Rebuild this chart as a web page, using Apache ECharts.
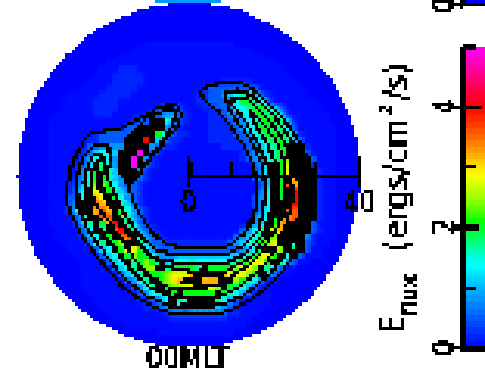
<!DOCTYPE html>
<html><head><meta charset="utf-8">
<style>html,body{margin:0;padding:0;background:#fff;overflow:hidden}#c{width:485px;height:371px;position:absolute;left:0;top:0}#px{position:absolute;left:0;top:0;pointer-events:none}</style>
<script src="https://cdn.jsdelivr.net/npm/echarts@6/dist/echarts.min.js"></script>
</head><body><div id="c"></div><canvas id="px" width="485" height="371"></canvas>
<script>
// flux level for each map character (ergs/cm2/s); x = saturated contour ink
const levelOf={'0':0,'1':0.06,'2':0.2,'3':0.5,'4':0.8,'5':1.1,'6':1.4,'7':1.7,'8':2.0,'9':2.4,'a':2.8,'b':3.2,'c':3.6,'d':4.0,'e':4.6,'f':5,'x':-1};
const colorStops=['#0000ff','#005bff','#00b6ff','#00ffe0','#00ff20','#a0ff00','#ffe000','#ff6600','#ff0000','#ff0080','#ff00ff'];
const colorbarLevels=[0,0.1,0.2,0.3,0.4,0.5,0.6,0.7,0.8,0.9,1,1.1,1.2,1.3,1.4,1.5,1.6,1.7,1.8,1.9,2,2.1,2.2,2.3,2.4,2.5,2.6,2.7,2.8,2.9,3,3.1,3.2,3.3,3.4,3.5,3.6,3.7,3.8,3.9,4,4.1,4.2,4.3,4.4,4.5,4.6,4.7,4.8,4.9];
const radialTicks=[0,10,20,30,40];
const radialLabels=['0','40'];
const colorbarLabels=['0','2','4'];
const cellDeg=1.5, firstCol=-39.75, firstRow=39.75;
// energy flux map, row by row (top first), 1.5 degree cells
const fluxRows=[
"0000000000 0000000000 0000000000 0000000000 0000000000 0000",
"0000000000 0000000000 0000000000 0000000000 0000000000 0000",
"0000000000 0000000000 0000000000 0000000000 0000000000 0000",
"0000000000 0000000000 0000000000 0000000000 0000000000 0000",
"0000000000 0000000000 0000000000 0000000000 0000000000 0000",
"0000000000 0000000000 0000000000 0000000000 0000000000 0000",
"0000000000 0000000000 1111111111 1111000000 0000000000 0000",
"0000000000 0000000011 1111111111 1111111000 0000000000 0000",
"0000000000 0000001111 1111111111 1111111110 0000000000 0000",
"0000000000 0000111111 1111111111 1111111111 1000000000 0000",
"0000000000 0001112221 1111111111 1111111111 1100000000 0000",
"0000000000 0011122222 1111111111 1111111111 1110000000 0000",
"0000000000 0111122222 1111111111 1122222111 1111000000 0000",
"0000000000 1111222221 1111111112 3333333311 1111100000 0000",
"0000000011 1112222211 1111111122 3345677532 1111100000 0000",
"0000000111 1122221111 1111111122 3334688763 1111111000 0000",
"0000000111 1122221111 1133331112 2334667887 5311111100 0000",
"0000001111 1122211111 2334432111 2234466887 7521111110 0000",
"0000011111 1111111123 3xx6532111 2223446688 8752111110 0000",
"0000011111 111111133x xxx4321111 2222346688 7763111111 0000",
"0000011111 11233333xx xx85322111 2222334678 8875211111 0000",
"0000011111 1223333xxx dx53221111 2222233467 8875311111 0000",
"0000011111 1334444xxx x432211111 1122223456 788xx21111 0000",
"0000011111 235665xxxf x321111111 1111123456 788xx31111 0000",
"0000011111 346764xxfx 4211111111 1111123446 789xxx3111 0000",
"0000011112 357764xxfx 3211111111 1111111346 x8axxx2111 0000",
"0000011112 468875xxx4 2111111111 1111111346 x8axxxx211 0000",
"0000011113 4688754xx3 2111111111 1111111345 x8xbxxx211 0000",
"0000011123 5799864332 1111111111 1111111135 x8cbxxx211 0000",
"0000011124 6xaa875432 1111111111 1111111146 x8xdxxx211 0000",
"000001113x 6xbax86432 1111111111 1111111346 x8xdxxx211 0000",
"0000011135 xxcbax7532 1111111111 1111111346 7xxdxxx211 0000",
"0000011136 xxbcbx8643 2111111111 1111111346 7xccxxx211 0000",
"0000011113 6xxccx9743 2111111111 1111111456 8xbcxxx211 0000",
"0000011113 57x8bdx753 2111111111 111111x457 8bcxxx3111 0000",
"0000001111 36x7xcdx74 3211111111 1111134678 bbxxxx3211 0000",
"0000001111 356x8xccx6 4321111111 1111345678 9xxxx42111 0000",
"0000000111 1367x89xx7 5332222222 2223456789 axx6x32110 0000",
"0000000011 11356x8aa8 6433333333 333334568x a9x7x31100 0000",
"0000000001 111356x898 8644455555 55555678aa 8x6x311100 0000",
"0000000000 1111356x78 9865666766 6667789aa8 x743110000 0000",
"0000000000 111113567x 99x788887x 88889aa9x7 5311000000 0000",
"0000000000 1111113567 x889aaabaa xbbaaa98x5 3110000000 0000",
"0000000000 1111111346 7x89abxxxb bbax987531 1000000000 0000",
"0000000000 1111111134 67x899aaaa a9x8764311 0000000000 0000",
"0000000000 0111111113 467x8x8888 8x87643111 0000000000 0000",
"0000000000 0011111112 2346x76xxx x764311111 0000000000 0000",
"0000000000 0001111111 223455x666 6543111110 0000000000 0000",
"0000000000 0000111111 1112333333 3332211100 0000000000 0000",
"0000000000 0000011111 1111222222 2221111000 0000000000 0000",
"0000000000 0000000111 1111111111 1111110000 0000000000 0000",
"0000000000 0000000000 0011111111 1111000000 0000000000 0000",
"0000000000 0000000000 0000000000 0000000000 0000000000 0000",
"0000000000 0000000000 0000000000 0000000000 0000000000 0000"
];
// contour lines in degrees of colatitude from the pole (x, y)
const contourOuter=[[2.6,19.4],[4.5,20.8],[7.1,21.5],[12.2,21.5],[14.6,20.4],[17.4,18],[20.7,14.7],[23.5,11.6],[25.9,8.1],[27.5,4.6],[28.9,0.6],[29.4,-3.6],[29.2,-7.2],[28.2,-10.7],[25.9,-14.9],[24.5,-18.9],[21.6,-22.9],[18.1,-26.5],[14.6,-29.1],[10.4,-31.2],[6.4,-32.4],[1.6,-32.4],[-3.1,-32.4],[-6.6,-31.4],[-11.3,-29.1],[-14.8,-26.7],[-18.4,-22.9],[-21.9,-18.2],[-24.9,-14.2],[-27.3,-9.5],[-28.7,-6],[-28.2,-1.3],[-27.1,3.4],[-25.4,6.9],[-23.1,10],[-16,10.9],[-12.5,12.8],[-8.9,14.7],[-6.6,16.1],[-2.4,16.4],[-1.6,14],[-2.6,11.6],[-4.2,9.3],[-6.1,7.4],[-8.5,4.6],[-10.6,1.5],[-13.6,-1.3],[-14.1,-2.7],[-12.5,-7.2],[-10.1,-11.2],[-7.8,-14.2],[-5.4,-15.9],[-2.4,-16.8],[8.7,-16.8],[11.8,-14.9],[14.6,-11.9],[15.8,-7.2],[16,-2.5],[15.3,2.2],[12.9,6.9],[10.4,10.9],[7.5,14.5],[4.7,17.1],[2.6,19.4]];
const contourSecond=[[8.5,19.2],[11.8,19.9],[14.6,18.9],[18.1,15.9],[21.6,11.9],[24.2,8.1],[25.9,3.9],[27.1,-0.1],[27.5,-4.8],[27.1,-8.8],[25.4,-13.5],[22.8,-18.2],[19.8,-22.5],[16.5,-25.3],[12.2,-28.4],[8,-30.2],[1.6,-30.7],[-4.2,-30.5],[-9.4,-28.4],[-14.1,-24.8],[-17.9,-20.6],[-21.2,-16.1],[-24,-11.9],[-25.9,-7.9],[-26.6,-3.6],[-25.9,1.1],[-24.5,4.6],[-21.9,6.9],[-18.8,6.9],[-18.4,3.4],[-19.1,-0.1],[-17.6,-3.6],[-14.8,-9.5],[-11.3,-14.2],[-7.1,-17.8],[-1.9,-18.5],[8.7,-18.5],[13.4,-16.1],[16.5,-12.6],[17.6,-7.9],[18.1,-3.2],[17.4,2.2],[15.1,7.4],[12.2,11.6],[9.4,15.6],[8.5,19.2]];
const contourThird=[[10.4,18.2],[13.6,18],[17.4,14.7],[20.7,10.5],[23.1,6.7],[24,2.2],[24.5,-4.8],[23.5,-9.5],[21.6,-15.4],[18.8,-19.6],[15.8,-22.9],[11.8,-26],[7.5,-28.4],[1.6,-29.1],[-3.8,-28.6],[-8.9,-26.2],[-12.9,-22.9],[-16.5,-18.2],[-19.8,-13.8],[-22.6,-9.5],[-24.2,-5.5],[-24.5,-1.3],[-23.5,2.2],[-22.6,4.6],[-20.2,5.1],[-20,1.1],[-20.7,-1.8],[-18.8,-5.5],[-15.5,-11.2],[-11.8,-16.1],[-7.1,-19.6],[-1.9,-20.6],[8.7,-20.6],[13.4,-18.2],[17.4,-14.2],[19.3,-8.8],[19.8,-3.2],[18.8,2.2],[16.5,6.9],[13.4,12.4],[10.4,16.4],[10.4,18.2]];
const contourFourth=[[14.1,15.6],[17.4,12.4],[20.2,8.6],[22.1,4.6],[22.8,-0.1],[22.6,-4.8],[21.2,-11.2],[18.8,-15.4],[15.8,-19.6],[11.8,-22.5],[7.5,-25.3],[1.6,-26.7],[-4.2,-26.2],[-8.5,-24.4],[-12.5,-20.1],[-14.8,-16.1],[-17.9,-11.9],[-21.4,-7.2],[-23.1,-3.6],[-22.6,0.6],[-21.4,3.4],[-21.2,0.6],[-21.2,-2.5],[-18.4,-7.2],[-14.1,-13.5],[-8.9,-18.9],[-5.4,-21.3],[0.5,-22.5],[8.7,-22.5],[14.6,-19],[18.1,-14.9],[19.8,-10.7],[20.7,-4.8],[20.7,2.2],[18.8,6.9],[15.8,11.6],[14.1,15.6]];
const contourPeak=[[0.9,-23.6],[8,-23.6],[6.8,-25.5],[1.6,-25.8],[0.9,-23.6]];
const contourBlob=[[-15.5,4.6],[-14.1,9.3],[-10.1,13.3],[-5.4,15.2],[-2.6,15.2],[-3.8,11.6],[-6.6,7.6],[-9.4,3.4],[-12.5,-0.8],[-14.8,-1.3],[-15.5,4.6]];
const contours=[contourOuter,contourSecond,contourThird,contourFourth,contourPeak,contourBlob];
const discRadius=40.1;
const previousPanelStrip=[[-8,7.5,40.4,41,0.85]];
const FONT='"DejaVu Sans"';

function colorOf(v){
  const t=Math.max(0,Math.min(0.99999,v/5))*(colorStops.length-1),i=Math.floor(t),f=t-i;
  const p=s=>[1,3,5].map(k=>parseInt(s.substr(k,2),16));
  const a=p(colorStops[i]),b=p(colorStops[i+1]);
  return 'rgb('+a.map((q,k)=>Math.round(q+(b[k]-q)*f)).join(',')+')';
}
const cells=[];
fluxRows.forEach((row,r)=>{row.replace(/ /g,'').split('').forEach((ch,c)=>{
  cells.push([firstCol+c*cellDeg,firstRow-r*cellDeg,levelOf[ch]]);
});});
function renderCell(p,api){
  const x=api.value(0),y=api.value(1),v=api.value(2);
  const a=api.coord([x-cellDeg/2,y+cellDeg/2]),b=api.coord([x+cellDeg/2,y-cellDeg/2]);
  const c=api.coord([0,0]),e=api.coord([discRadius,0]);
  return {type:'rect',shape:{x:a[0],y:a[1],width:b[0]-a[0]+3.2,height:b[1]-a[1]+3.2},
    style:{fill:v<0?'#000':colorOf(v)},clipPath:{type:'circle',shape:{cx:c[0],cy:c[1],r:e[0]-c[0]}}};
}
function renderStrip(p,api){
  const a=api.coord([api.value(0),api.value(3)]),b=api.coord([api.value(1),api.value(2)]);
  return {type:'rect',shape:{x:a[0],y:a[1],width:b[0]-a[0],height:b[1]-a[1]},style:{fill:colorOf(api.value(4))}};
}
function renderBand(p,api){
  const v=api.value(0),a=api.coord([0,v+0.1]),b=api.coord([1,v]);
  return {type:'rect',shape:{x:a[0],y:a[1],width:b[0]-a[0],height:b[1]-a[1]+3.2},style:{fill:colorOf(v)}};
}
const chart=echarts.init(document.getElementById('c'),null,{renderer:'canvas',devicePixelRatio:1/3.1});
const off={show:false};
const grids=[],xAxes=[],yAxes=[],series=[];
function addGrid(g,x,y){grids.push(Object.assign({show:false,containLabel:false,outerBoundsMode:'none'},g));
  xAxes.push(Object.assign({gridIndex:grids.length-1,type:'value',min:0,max:1,show:false,z:6},x));
  yAxes.push(Object.assign({gridIndex:grids.length-1,type:'value',min:0,max:1,show:false,z:6},y));
  return grids.length-1;}
const line={show:true,lineStyle:{color:'#000',width:3}};
const noLine={show:false};
const tick=(len,inside)=>({show:true,length:len,inside:inside,lineStyle:{color:'#000',width:3}});
const numLabel=(list,margin,rot)=>({show:true,rotate:rot||0,margin:margin,fontFamily:FONT,fontSize:26,color:'#000',
  formatter:v=>list.indexOf(String(v))>=0?String(v):''});

const gMap=addGrid({left:1,top:0.25,width:374,height:361.25},{min:-44,max:44},{min:-44,max:41});
series.push({type:'custom',name:'Eflux',coordinateSystem:'cartesian2d',xAxisIndex:gMap,yAxisIndex:gMap,data:cells,renderItem:renderCell,clip:false,silent:true,z:2,animation:false,progressive:0});
series.push({type:'custom',name:'previous panel',coordinateSystem:'cartesian2d',xAxisIndex:gMap,yAxisIndex:gMap,data:previousPanelStrip,renderItem:renderStrip,silent:true,z:3,animation:false,clip:false});
contours.forEach((c,i)=>series.push({type:'line',name:'contour'+i,xAxisIndex:gMap,yAxisIndex:gMap,data:c,showSymbol:false,symbol:'none',
  lineStyle:{color:'#000',width:3},silent:true,z:4,animation:false,clip:false}));
const scaleRect={left:188,top:174,width:170,height:1};
addGrid(scaleRect,{show:true,min:radialTicks[0],max:radialTicks[4],interval:10,position:'bottom',axisLine:line,axisTick:tick(13,true),
  axisLabel:numLabel(radialLabels,17),splitLine:off},{});
addGrid(scaleRect,{show:true,min:0,max:40,interval:40,position:'bottom',axisLine:noLine,axisTick:tick(20,true),axisLabel:off,splitLine:off},{});
addGrid(scaleRect,{show:true,min:0,max:40,interval:40,position:'bottom',axisLine:noLine,axisTick:tick(12,false),axisLabel:off,splitLine:off},{});
const barRect={left:462,top:46,width:60,height:300};
const gBar=addGrid(barRect,{},{min:0,max:5});
series.push({type:'custom',name:'colorbar',coordinateSystem:'cartesian2d',xAxisIndex:gBar,yAxisIndex:gBar,data:colorbarLevels.map(v=>[v]),encode:{y:0},renderItem:renderBand,silent:true,z:2,animation:false,clip:false});
addGrid(barRect,{show:true,position:'bottom',axisLine:line,axisTick:off,axisLabel:off,splitLine:off},
  {show:true,min:0,max:5,interval:1,axisLine:line,axisTick:tick(12,true),axisLabel:off,splitLine:off});
addGrid(barRect,{show:true,position:'top',axisLine:line,axisTick:off,axisLabel:off,splitLine:off},{});
const majorRect={left:462,top:106,width:60,height:240};
addGrid(majorRect,{},{show:true,min:0,max:4,interval:2,axisLine:noLine,axisTick:tick(14,false),axisLabel:numLabel(colorbarLabels,4,90),splitLine:off});
addGrid(majorRect,{},{show:true,min:0,max:4,interval:2,axisLine:noLine,axisTick:tick(17,true),axisLabel:off,splitLine:off});
const upRect={left:462,top:-295,width:60,height:300};
const gUp=addGrid(upRect,{show:true,position:'bottom',axisLine:line,axisTick:off,axisLabel:off,splitLine:off},
  {show:true,min:0,max:4,interval:4,axisLine:line,axisTick:tick(14,false),axisLabel:numLabel(['0'],4,90),splitLine:off});
series.push({type:'custom',name:'colorbar above',coordinateSystem:'cartesian2d',xAxisIndex:gUp,yAxisIndex:gUp,data:[[0,1,0,4,0]],renderItem:renderStrip,silent:true,z:2,animation:false,clip:false});

function rot(text,x,y,size,scale){return {type:'text',x:x,y:y,rotation:Math.PI/2,scaleX:scale||1,silent:true,z:20,
  style:{text:text,fontFamily:FONT,fontSize:size,fill:'#000',align:'left',verticalAlign:'middle'}};}
chart.setOption({animation:false,backgroundColor:'#fff',
  title:{text:'00MLT',left:187,textAlign:'center',top:347,textStyle:{fontFamily:FONT,fontSize:26,fontWeight:'normal',color:'#000'},padding:0},
  grid:grids,xAxis:xAxes,yAxis:yAxes,series:series,
  graphic:[rot('E',394,332,34,0.75),rot('flux',411,314,22),rot('(ergs/cm',397,250,30),rot('2',386,115,18),rot('/s)',397,100,30)]});
// blocky low-resolution look: every palette colour has a full channel and an empty one,
// so anti-aliased blends with black or white can be snapped back, then copied nearest-neighbour
function blocky(){
  const cv=document.querySelector('#c canvas');
  const ctx=cv.getContext('2d'),im=ctx.getImageData(0,0,cv.width,cv.height),d=im.data;
  for(let i=0;i<d.length;i+=4){
    const M=Math.max(d[i],d[i+1],d[i+2]),m=Math.min(d[i],d[i+1],d[i+2]);
    const px=(i/4)%cv.width;
    if(px<8&&(M<150||M-m<40)){d[i]=d[i+1]=d[i+2]=255;}
    else if(M-m<40){const k=m<185?0:255;d[i]=d[i+1]=d[i+2]=k;}
    else if(M<150){d[i]=d[i+1]=d[i+2]=0;}
    else if(m>150){d[i]=d[i+1]=d[i+2]=255;}
    else{for(let k=0;k<3;k++)d[i+k]=Math.round((d[i+k]-m)*255/(M-m));}
  }
  ctx.putImageData(im,0,0);
  const out=document.getElementById('px').getContext('2d');
  out.imageSmoothingEnabled=false;
  out.drawImage(cv,0,0,485,371);
}
blocky();
</script></body></html>
